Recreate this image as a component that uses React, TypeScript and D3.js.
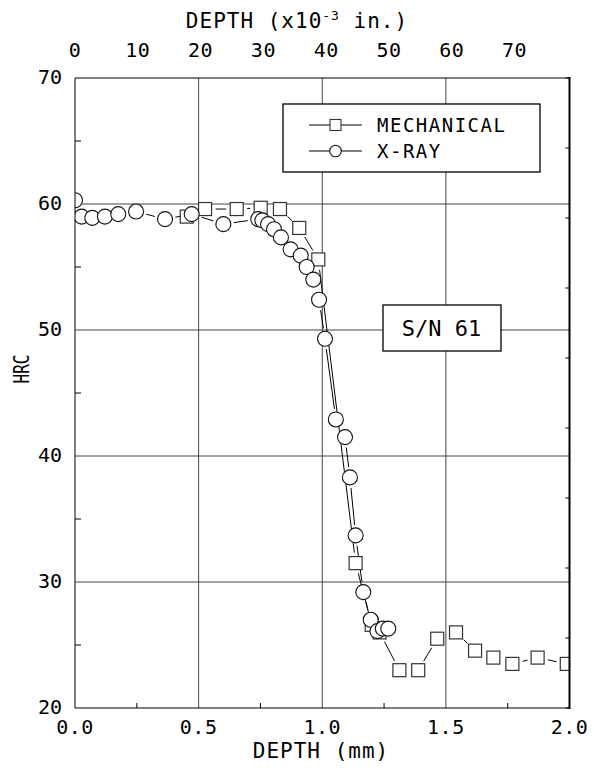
import React from "react";
import * as d3 from "d3";

// ---- data ----
const xTicksMm = [0, 0.5, 1.0, 1.5, 2.0];
const xTickLabelsMm = ["0.0", "0.5", "1.0", "1.5", "2.0"];
const xMinorMm = [0.25, 0.75, 1.25, 1.75];
const xTicksIn = [0, 10, 20, 30, 40, 50, 60, 70];
const yTicks = [20, 30, 40, 50, 60, 70];
const yMinor = [25, 35, 45, 55, 65];
const rightTicks = [0, 1, 2, 3, 4, 5, 6, 7, 8, 9];

const xrayDepth = [0.0, 0.027, 0.07, 0.121, 0.175, 0.247, 0.364, 0.472, 0.6, 0.741, 0.758, 0.781, 0.805, 0.833, 0.872, 0.913, 0.937, 0.964, 0.987, 1.011, 1.055, 1.092, 1.112, 1.135, 1.166, 1.196, 1.223, 1.245, 1.267];
const xrayHrc = [60.3, 59.0, 58.9, 59.0, 59.2, 59.4, 58.8, 59.2, 58.4, 58.8, 58.7, 58.4, 58.0, 57.35, 56.4, 55.9, 55.0, 54.0, 52.4, 49.3, 42.9, 41.5, 38.3, 33.7, 29.2, 27.0, 26.1, 26.3, 26.3];

const mechDepth = [0.452, 0.526, 0.654, 0.751, 0.829, 0.907, 0.984, 1.135, 1.2, 1.232, 1.312, 1.388, 1.465, 1.541, 1.618, 1.692, 1.769, 1.871, 1.989];
const mechHrc = [59.0, 59.6, 59.6, 59.7, 59.6, 58.1, 55.6, 31.5, 26.6, 26.0, 23.0, 23.0, 25.5, 26.0, 24.55, 24.0, 23.5, 24.0, 23.5];

const FONT = "'DejaVu Sans Mono', 'Liberation Mono', monospace";

function trimmedSegments(px: number[], py: number[], gap: number) {
  const out: [number, number, number, number][] = [];
  for (let i = 0; i < px.length - 1; i++) {
    const dx = px[i + 1] - px[i];
    const dy = py[i + 1] - py[i];
    const len = Math.hypot(dx, dy);
    if (len <= 2 * gap + 0.5) continue;
    const ux = dx / len, uy = dy / len;
    out.push([px[i] + ux * gap, py[i] + uy * gap, px[i + 1] - ux * gap, py[i + 1] - uy * gap]);
  }
  return out;
}

export default function App() {
  const x = d3.scaleLinear().domain([0, 2]).range([75, 569.5]);
  const xIn = d3.scaleLinear().domain([0, 2 / 0.0254]).range([75, 569.5]);
  const y = d3.scaleLinear().domain([20, 70]).range([708, 78]);
  const yR = d3.scaleLinear().domain([0, 9]).range([708, 78]);

  const [x0, x1] = x.range();
  const [yb, yt] = y.range();

  const xrPx = xrayDepth.map((d) => x(d));
  const xrPy = xrayHrc.map((d) => y(d));
  const mePx = mechDepth.map((d) => x(d));
  const mePy = mechHrc.map((d) => y(d));

  const gap = 10.5;
  const xrSegs = trimmedSegments(xrPx, xrPy, gap);
  const meSegs = trimmedSegments(mePx, mePy, gap);

  const gridColor = "#444";
  const markStroke = "#333";
  const sq = 13;
  const r = 7.5;

  return (
    <svg width={594} height={772} style={{ position: "absolute", left: 0, top: 0, background: "#fff" }} fontFamily={FONT}>
      <defs>
        <clipPath id="plotClip">
          <rect x={x0} y={yt} width={x1 - x0} height={yb - yt} />
        </clipPath>
      </defs>
      <rect x={0} y={0} width={594} height={772} fill="#fff" />

      {/* grid */}
      {xTicksMm.slice(1, -1).map((t) => (
        <line key={"gx" + t} x1={x(t)} x2={x(t)} y1={yt} y2={yb} stroke={gridColor} strokeWidth={1} />
      ))}
      {yTicks.slice(1, -1).map((t) => (
        <line key={"gy" + t} x1={x0} x2={x1} y1={y(t)} y2={y(t)} stroke={gridColor} strokeWidth={1} />
      ))}

      {/* minor ticks */}
      {xMinorMm.map((t) => (
        <line key={"mx" + t} x1={x(t)} x2={x(t)} y1={yb} y2={yb - 5} stroke="#000" strokeWidth={1} />
      ))}
      {yMinor.map((t) => (
        <line key={"my" + t} x1={x0} x2={x0 + 6} y1={y(t)} y2={y(t)} stroke="#000" strokeWidth={1} />
      ))}
      {rightTicks.map((t) => (
        <line key={"rt" + t} x1={x1} x2={x1 - 4} y1={yR(t)} y2={yR(t)} stroke="#000" strokeWidth={1} />
      ))}

      {/* data lines */}
      <g clipPath="url(#plotClip)" stroke="#000" strokeWidth={1}>
        {meSegs.map((s, i) => (
          <line key={"ms" + i} x1={s[0]} y1={s[1]} x2={s[2]} y2={s[3]} />
        ))}
        {xrSegs.map((s, i) => (
          <line key={"xs" + i} x1={s[0]} y1={s[1]} x2={s[2]} y2={s[3]} />
        ))}
      </g>

      {/* markers */}
      <g clipPath="url(#plotClip)">
        {mePx.map((px, i) => (
          <rect key={"mm" + i} x={px - sq / 2} y={mePy[i] - sq / 2} width={sq} height={sq} fill="#fff" stroke={markStroke} strokeWidth={1.2} />
        ))}
        {xrPx.map((px, i) => (
          <circle key={"xm" + i} cx={px} cy={xrPy[i]} r={r} fill="#fff" stroke="#111" strokeWidth={1.1} />
        ))}
      </g>

      {/* frame */}
      <line x1={x0} x2={x1} y1={yt} y2={yt} stroke="#000" strokeWidth={1} />
      <line x1={x0} x2={x1} y1={yb} y2={yb} stroke="#000" strokeWidth={1} />
      <line x1={x0} x2={x0} y1={yt} y2={yb} stroke="#000" strokeWidth={1} />
      <line x1={x1} x2={x1} y1={yt - 1} y2={yb + 1} stroke="#000" strokeWidth={2} />

      {/* y tick labels */}
      {yTicks.map((t) => (
        <text key={"yl" + t} x={62} y={y(t) + 6} fontSize={20} textAnchor="end" fill="#000">
          {t}
        </text>
      ))}
      {/* bottom tick labels */}
      {xTicksMm.map((t, i) => (
        <text key={"xl" + t} x={x(t)} y={734} fontSize={20} textAnchor="middle" fill="#000" letterSpacing={0.5}>
          {xTickLabelsMm[i]}
        </text>
      ))}
      {/* top tick labels */}
      {xTicksIn.map((t) => (
        <text key={"tl" + t} x={xIn(t)} y={57} fontSize={20} textAnchor="middle" fill="#000" letterSpacing={0.5}>
          {t}
        </text>
      ))}

      {/* axis titles */}
      <text x={297} y={28} fontSize={21} textAnchor="middle" fill="#000" letterSpacing={1}>
        DEPTH (x10<tspan dy={-8} fontSize={13}>-3</tspan>
        <tspan dy={8}> in.)</tspan>
      </text>
      <text x={321} y={758} fontSize={21} textAnchor="middle" fill="#000" letterSpacing={1}>
        DEPTH (mm)
      </text>
      <text transform="translate(29,369) rotate(-90)" fontSize={21} textAnchor="middle" fill="#000" textLength={29} lengthAdjust="spacingAndGlyphs">
        HRC
      </text>

      {/* legend */}
      <rect x={283} y={104} width={257} height={68} fill="#fff" stroke="#000" strokeWidth={1.3} />
      <line x1={309} x2={362} y1={125} y2={125} stroke="#000" strokeWidth={1} />
      <rect x={335.5 - 5.5} y={125 - 5.5} width={11} height={11} fill="#fff" stroke={markStroke} strokeWidth={1.1} />
      <text x={377} y={132} fontSize={19} fill="#000" letterSpacing={1.5}>
        MECHANICAL
      </text>
      <line x1={309} x2={362} y1={151} y2={151} stroke="#000" strokeWidth={1} />
      <circle cx={335.5} cy={151} r={5.8} fill="#fff" stroke="#111" strokeWidth={1.1} />
      <text x={377} y={158} fontSize={19} fill="#000" letterSpacing={1.5}>
        X-RAY
      </text>

      {/* S/N box */}
      <rect x={383} y={305} width={118} height={46} fill="#fff" stroke="#000" strokeWidth={1.3} />
      <text x={441.5} y={336} fontSize={22} textAnchor="middle" fill="#000">
        S/N 61
      </text>
    </svg>
  );
}
